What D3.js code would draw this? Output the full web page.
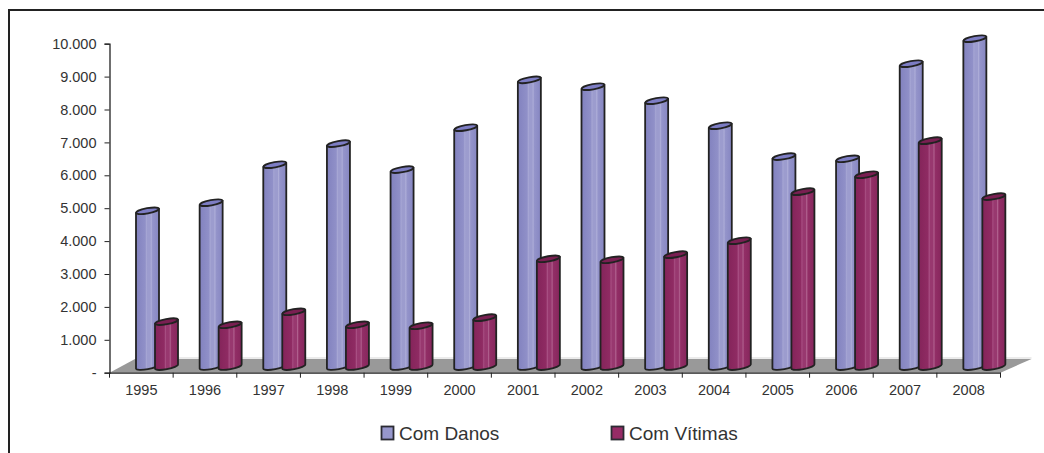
<!DOCTYPE html>
<html><head><meta charset="utf-8">
<script src="https://d3js.org/d3.v7.min.js"></script>
<style>html,body{margin:0;padding:0;background:#fff}svg{display:block}text{font-family:"Liberation Sans",Arial,sans-serif;fill:#333}</style>
</head><body><svg id="c" width="1044" height="453"></svg>
<script>
const years=["1995","1996","1997","1998","1999","2000","2001","2002","2003","2004","2005","2006","2007","2008"];
const comDanos=[4770,5015,6170,6810,6020,7295,8750,8540,8115,7355,6415,6350,9240,10000];
const comVitimas=[1400,1305,1700,1305,1275,1520,3310,3280,3435,3860,5350,5865,6900,5200];
const yTicks=[0,1000,2000,3000,4000,5000,6000,7000,8000,9000,10000];
const tickLabels=["-","1.000","2.000","3.000","4.000","5.000","6.000","7.000","8.000","9.000","10.000"];
const seriesNames=["Com Danos","Com Vítimas"];

const svg=d3.select("#c");
const x=d3.scaleBand().domain(years).range([109.5,1000.5]);
const y=d3.scaleLinear().domain([0,10000]).range([372.7,43.7]);
const depth=5, tilt=4.2, rx=11.5, ry=2.6;

// frame
svg.append("path").attr("d","M9,453V10H1044").attr("fill","none").attr("stroke","#222").attr("stroke-width",2);

// gradients
const defs=svg.append("defs");
function grad(id,stops){
  const g=defs.append("linearGradient").attr("id",id).attr("x1",0).attr("x2",1).attr("y1",0).attr("y2",0);
  stops.forEach(s=>g.append("stop").attr("offset",s[0]).attr("stop-color",s[1]));
}
grad("gb",[[0,"#8282bf"],[.4,"#9090c8"],[.46,"#a6a6d4"],[.5,"#9c9cce"],[.62,"#9c9cce"],[.66,"#adadd8"],[.72,"#9494ca"],[1,"#8686c2"]]);
grad("gr",[[0,"#84245a"],[.4,"#8f2b63"],[.46,"#a84f83"],[.5,"#98386f"],[.62,"#98386f"],[.66,"#b0608e"],[.72,"#922e66"],[1,"#86265c"]]);

// floor
const fl=[[109.5,372.7],[135,359],[1031.5,359],[1000.5,372.7]];
svg.append("path").attr("d","M135,358H1031.5").attr("stroke","#e4e4e4").attr("stroke-width",1.5);
svg.append("path").attr("d",d3.line()(fl)+"Z").attr("fill","#999");

// axes
const yAxis=d3.axisLeft(y).tickValues(yTicks).tickFormat((d,i)=>tickLabels[i]).tickSize(5).tickPadding(8);
const gy=svg.append("g").attr("transform","translate(109.5,0)").call(yAxis);
const gx=svg.append("g").attr("transform","translate(0,372.7)").call(d3.axisBottom(x).tickSize(0).tickPadding(12));
gx.selectAll(".bx").data(years.concat(["end"])).enter().append("line").attr("class","bx")
  .attr("x1",(d,i)=>109.5+i*x.step()).attr("x2",(d,i)=>109.5+i*x.step()).attr("y1",0).attr("y2",5);
[gy,gx].forEach(g=>{g.selectAll("path.domain").attr("stroke","#222").attr("stroke-width",1.3);
  g.selectAll("line").attr("stroke","#222");
  g.selectAll("text").style("font-size","14.5px").attr("fill","#333").style("font-family",'"Liberation Sans",Arial,sans-serif');});

// cylinders
function cyl(vals,off,fill,topFill){
  const g=svg.append("g");
  vals.forEach((v,i)=>{
    const l=x(years[i])+off, r=l+rx*2;
    const yt=y(v)-depth, yb=y(0)-depth-1.2;
    const a=tilt/2;
    const rot=-Math.atan2(tilt,rx*2)*180/Math.PI;
    g.append("path").attr("d",`M${l},${yt+a}L${l},${yb+a}A${rx},${ry} ${rot} 0 0 ${r},${yb-a}L${r},${yt-a}Z`)
      .attr("fill",`url(#${fill})`).attr("stroke","#222").attr("stroke-width",1.8).attr("stroke-linejoin","round");
    g.append("ellipse").attr("cx",l+rx).attr("cy",yt).attr("rx",rx).attr("ry",ry)
      .attr("transform",`rotate(${rot} ${l+rx} ${yt})`)
      .attr("fill",topFill).attr("stroke","#222").attr("stroke-width",1.8);
  });
}
cyl(comDanos,26.5,"gb","#7d7dc4");
cyl(comVitimas,45.5,"gr","#7a1f52");

// legend
const lg=svg.append("g");
[[381.5,399,"#9797cc"],[611.5,629,"#962b66"]].forEach((p,i)=>{
  lg.append("rect").attr("x",p[0]).attr("y",426.5).attr("width",12).attr("height",13).attr("fill",p[2]).attr("stroke","#2b2b33").attr("stroke-width",1.8);
  lg.append("text").attr("x",p[1]).attr("y",440).style("font-size","19px").text(seriesNames[i]);
});
</script></body></html>
